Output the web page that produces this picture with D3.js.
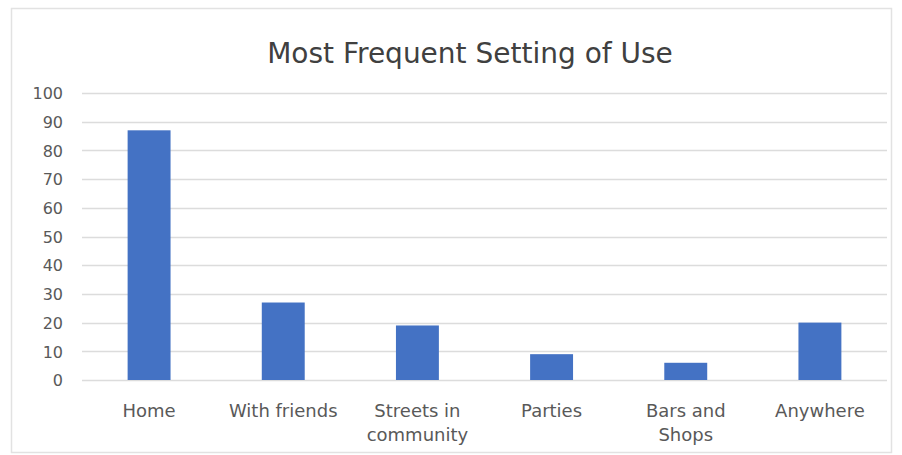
<!DOCTYPE html>
<html>
<head>
<meta charset="utf-8">
<script src="https://cdn.jsdelivr.net/npm/d3@7"></script>
<style>
  html, body { margin: 0; padding: 0; background: #fff; }
  svg { display: block; }
</style>
</head>
<body>
<svg id="chart" width="902" height="455"></svg>
<script>
const title = "Most Frequent Setting of Use";
const categories = ["Home", "With friends", "Streets in community", "Parties", "Bars and Shops", "Anywhere"];
const values = [87, 27, 19, 9, 6, 20];
const yTicks = [0, 10, 20, 30, 40, 50, 60, 70, 80, 90, 100];

const svg = d3.select("#chart");
const W = 902, H = 455;
const font = "'DejaVu Sans', sans-serif";

svg.append("rect").attr("x", 0).attr("y", 0).attr("width", W).attr("height", H).attr("fill", "#fff");
svg.append("rect")
  .attr("x", 11.5).attr("y", 8.5).attr("width", 880).attr("height", 444)
  .attr("fill", "#fff").attr("stroke", "#e2e2e2").attr("stroke-width", 1.5);

const plot = { left: 82, right: 887, top: 93, bottom: 380 };

const x = d3.scaleBand()
  .domain(categories)
  .range([plot.left, plot.right])
  .paddingInner(0.68)
  .paddingOuter(0.34);

const y = d3.scaleLinear().domain([0, 100]).range([plot.bottom, plot.top]);

// gridlines
svg.append("g")
  .selectAll("line")
  .data(yTicks)
  .join("line")
  .attr("x1", plot.left).attr("x2", plot.right)
  .attr("y1", d => Math.round(y(d)) + 0.5).attr("y2", d => Math.round(y(d)) + 0.5)
  .attr("stroke", "#dcdcdc").attr("stroke-width", 1.5);

// y axis labels
const yAxis = d3.axisLeft(y).tickValues(yTicks).tickSize(0).tickPadding(0);
const yg = svg.append("g").attr("transform", `translate(${63},0)`).call(yAxis);
yg.select(".domain").remove();
yg.selectAll("text")
  .attr("font-family", font).attr("font-size", 16).attr("fill", "#595959")
  .attr("dy", "0.36em");

// bars
svg.append("g")
  .selectAll("rect")
  .data(values)
  .join("rect")
  .attr("x", (d, i) => x(categories[i]))
  .attr("width", x.bandwidth())
  .attr("y", d => y(d))
  .attr("height", d => y(0) - y(d))
  .attr("fill", "#4472C4");

// x axis labels
const xAxis = d3.axisBottom(x).tickSize(0).tickPadding(0);
const xg = svg.append("g").attr("transform", `translate(0,${plot.bottom})`).call(xAxis);
xg.select(".domain").remove();
xg.selectAll("text")
  .attr("font-family", font).attr("font-size", 18).attr("fill", "#595959")
  .attr("y", 0).attr("dy", null)
  .each(function(d) {
    const t = d3.select(this);
    t.text(null);
    const words = d.split(" ");
    const maxW = 120;
    let lines = [], cur = [];
    const tmp = t.append("tspan");
    words.forEach(w => {
      const trial = cur.concat([w]).join(" ");
      tmp.text(trial);
      if (tmp.node().getComputedTextLength() > maxW && cur.length) {
        lines.push(cur.join(" "));
        cur = [w];
      } else cur.push(w);
    });
    lines.push(cur.join(" "));
    tmp.remove();
    lines.forEach((ln, i) => {
      t.append("tspan").attr("x", 0).attr("y", 37 + i * 24).text(ln);
    });
  });

// title
svg.append("text")
  .attr("x", 470).attr("y", 63)
  .attr("text-anchor", "middle")
  .attr("font-family", font).attr("font-size", 28)
  .attr("fill", "#404040")
  .text(title);
</script>
</body>
</html>
